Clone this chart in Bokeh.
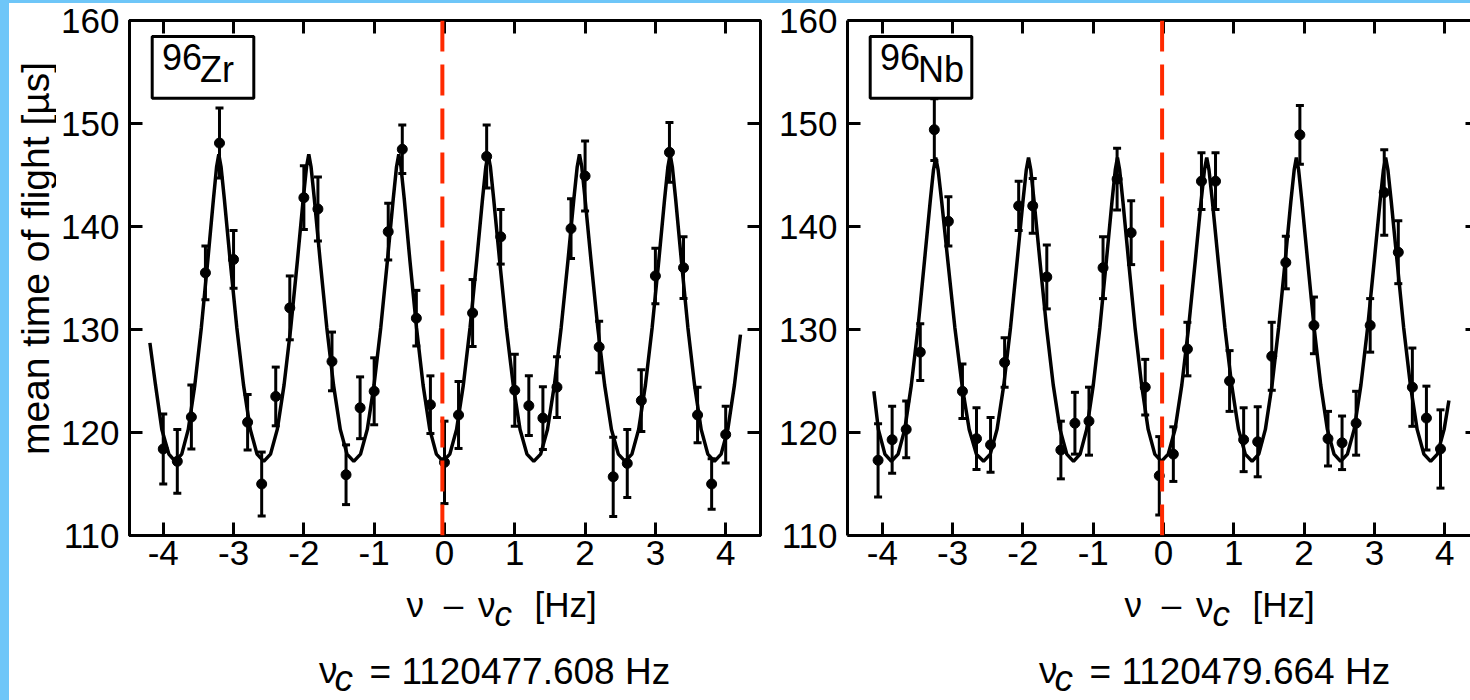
import math
from bokeh.plotting import figure
from bokeh.models import (ColumnDataSource, Whisker, TeeHead, Span, Label, BoxAnnotation,
                          LinearAxis, FixedTicker, Range1d)
from bokeh.layouts import row, column
from bokeh.embed import file_html
from bokeh.resources import INLINE

# ---------------- data ----------------
x_ticks = [-4, -3, -2, -1, 0, 1, 2, 3, 4]
x_tick_labels = ["-4", "-3", "-2", "-1", "0", "1", "2", "3", "4"]
y_ticks = [110, 120, 130, 140, 150, 160]
y_tick_labels = ["110", "120", "130", "140", "150", "160"]

isotopes = [("96", "Zr"), ("96", "Nb")]
nu_c_text = ["= 1120477.608 Hz", "= 1120479.664 Hz"]
nu_c_marker = [-0.03, -0.02]
y_title = "mean time of flight [µs]"
x_title = ["ν", "–", "ν", "c", "[Hz]"]

zr_x = [-4.0, -3.8, -3.6, -3.4, -3.2, -3.0, -2.8, -2.6, -2.4, -2.2, -2.0, -1.8, -1.6, -1.4,
        -1.2, -1.0, -0.8, -0.6, -0.4, -0.2, 0.0, 0.2, 0.4, 0.6, 0.8, 1.0, 1.2, 1.4, 1.6, 1.8,
        2.0, 2.2, 2.4, 2.6, 2.8, 3.0, 3.2, 3.4, 3.6, 3.8, 4.0]
zr_y = [118.4, 117.2, 121.5, 135.5, 148.1, 136.8, 121.0, 115.0, 123.5, 132.1, 142.8, 141.7,
        126.9, 115.9, 122.4, 124.0, 139.5, 147.5, 131.1, 122.7, 117.1, 121.7, 131.6, 146.8,
        139.0, 124.1, 122.6, 121.4, 124.4, 139.8, 144.9, 128.3, 115.7, 117.0, 123.1, 135.2,
        147.2, 136.0, 121.7, 115.0, 119.8]
zr_err = [3.4, 3.1, 3.1, 2.6, 3.4, 2.8, 2.7, 3.1, 2.85, 3.1, 3.1, 3.1, 2.85, 2.9, 3.0, 3.25,
          2.75, 2.35, 2.7, 2.8, 4.0, 3.25, 3.25, 3.05, 2.65, 3.5, 2.9, 3.05, 2.95, 2.9, 3.4,
          2.5, 3.85, 3.3, 3.0, 2.7, 2.9, 3.0, 2.7, 2.45, 2.75]

nb_x = [-4.06, -3.86, -3.66, -3.46, -3.26, -3.06, -2.86, -2.66, -2.46, -2.26, -2.06, -1.86,
        -1.66, -1.46, -1.26, -1.06, -0.86, -0.66, -0.46, -0.26, -0.06, 0.14, 0.34, 0.54, 0.74,
        0.94, 1.14, 1.34, 1.54, 1.74, 1.94, 2.14, 2.34, 2.54, 2.74, 2.94, 3.14, 3.34, 3.54,
        3.74, 3.94]
nb_y = [117.3, 119.3, 120.3, 127.8, 149.4, 140.5, 124.0, 119.4, 118.8, 126.8, 142.0, 142.0,
        135.1, 118.3, 120.9, 121.1, 136.0, 144.6, 139.4, 124.4, 115.8, 117.9, 128.1, 144.4,
        144.4, 125.0, 119.3, 119.1, 127.4, 136.5, 148.9, 130.4, 119.4, 119.0, 120.9, 130.4,
        143.3, 137.5, 124.4, 121.4, 118.4]
nb_err = [3.55, 3.25, 2.75, 2.75, 3.0, 2.4, 2.65, 3.0, 2.65, 2.4, 2.4, 2.65, 3.1, 2.8, 3.0,
          3.3, 3.0, 3.0, 3.1, 2.7, 3.8, 2.65, 2.6, 2.75, 2.75, 2.95, 3.1, 3.4, 3.3, 2.55, 2.85,
          2.75, 2.65, 2.6, 3.1, 2.6, 4.15, 3.05, 3.8, 3.1, 3.8]

zr_fit_x = [-4.19, -4.11, -4.02, -3.92, -3.83,
            -3.737, -3.644, -3.551, -3.458, -3.365, -3.287, -3.241, -3.21,
            -3.178, -3.13, -3.05, -2.954, -2.858, -2.762, -2.666, -2.57,
            -2.474, -2.378, -2.282, -2.186, -2.09, -2.01, -1.962, -1.93,
            -1.898, -1.85, -1.77, -1.674, -1.578, -1.482, -1.386, -1.29,
            -1.194, -1.098, -1.002, -0.906, -0.81, -0.73, -0.682, -0.65,
            -0.619, -0.571, -0.493, -0.398, -0.304, -0.209, -0.115, -0.02,
            0.076, 0.172, 0.268, 0.364, 0.46, 0.54, 0.588, 0.62,
            0.653, 0.701, 0.783, 0.88, 0.978, 1.075, 1.173, 1.27,
            1.368, 1.465, 1.563, 1.66, 1.758, 1.839, 1.888, 1.92,
            1.953, 2.001, 2.083, 2.18, 2.278, 2.375, 2.473, 2.57,
            2.666, 2.762, 2.858, 2.954, 3.05, 3.13, 3.178, 3.21,
            3.241, 3.289, 3.368, 3.462, 3.557, 3.651, 3.746, 3.84,
            3.935, 4.03, 4.124, 4.21]
zr_fit_y = [128.7, 124.6, 120.3, 117.9, 117.2,
            117.9, 120.3, 124.6, 130.2, 136.8, 142.6, 145.8, 147.0,
            145.8, 142.6, 136.8, 130.2, 124.6, 120.3, 117.9, 117.2,
            117.9, 120.3, 124.6, 130.2, 136.8, 142.6, 145.8, 147.0,
            145.8, 142.6, 136.8, 130.2, 124.6, 120.3, 117.9, 117.2,
            117.9, 120.3, 124.6, 130.2, 136.8, 142.6, 145.8, 147.0,
            145.8, 142.6, 136.8, 130.2, 124.6, 120.3, 117.9, 117.2,
            117.9, 120.3, 124.6, 130.2, 136.8, 142.6, 145.8, 147.0,
            145.8, 142.6, 136.8, 130.2, 124.6, 120.3, 117.9, 117.2,
            117.9, 120.3, 124.6, 130.2, 136.8, 142.6, 145.8, 147.0,
            145.8, 142.6, 136.8, 130.2, 124.6, 120.3, 117.9, 117.2,
            117.9, 120.3, 124.6, 130.2, 136.8, 142.6, 145.8, 147.0,
            145.8, 142.6, 136.8, 130.2, 124.6, 120.3, 117.9, 117.2,
            117.9, 120.3, 124.6, 129.5]

nb_fit_x = [-4.12, -4.056, -3.963, -3.87,
            -3.775, -3.681, -3.587, -3.492, -3.398, -3.319, -3.272, -3.24,
            -3.206, -3.155, -3.07, -2.968, -2.866, -2.764, -2.662, -2.56,
            -2.464, -2.368, -2.272, -2.176, -2.08, -2.0, -1.952, -1.92,
            -1.888, -1.84, -1.76, -1.664, -1.568, -1.472, -1.376, -1.28,
            -1.186, -1.093, -0.999, -0.905, -0.811, -0.733, -0.686, -0.655,
            -0.624, -0.577, -0.499, -0.405, -0.311, -0.218, -0.124, -0.03,
            0.067, 0.164, 0.26, 0.357, 0.454, 0.534, 0.583, 0.615,
            0.647, 0.696, 0.776, 0.873, 0.97, 1.067, 1.163, 1.26,
            1.355, 1.449, 1.544, 1.638, 1.733, 1.811, 1.859, 1.89,
            1.922, 1.969, 2.048, 2.142, 2.237, 2.331, 2.426, 2.52,
            2.616, 2.712, 2.808, 2.904, 3.0, 3.08, 3.128, 3.16,
            3.192, 3.24, 3.32, 3.416, 3.512, 3.608, 3.704, 3.80,
            3.896, 3.992, 4.06]
nb_fit_y = [124.0, 120.3, 117.9, 117.2,
            117.9, 120.3, 124.6, 130.2, 136.8, 142.4, 145.5, 146.7,
            145.5, 142.4, 136.8, 130.2, 124.6, 120.3, 117.9, 117.2,
            117.9, 120.3, 124.6, 130.2, 136.8, 142.4, 145.5, 146.7,
            145.5, 142.4, 136.8, 130.2, 124.6, 120.3, 117.9, 117.2,
            117.9, 120.3, 124.6, 130.2, 136.8, 142.4, 145.5, 146.7,
            145.5, 142.4, 136.8, 130.2, 124.6, 120.3, 117.9, 117.2,
            117.9, 120.3, 124.6, 130.2, 136.8, 142.4, 145.5, 146.7,
            145.5, 142.4, 136.8, 130.2, 124.6, 120.3, 117.9, 117.2,
            117.9, 120.3, 124.6, 130.2, 136.8, 142.4, 145.5, 146.7,
            145.5, 142.4, 136.8, 130.2, 124.6, 120.3, 117.9, 117.2,
            117.9, 120.3, 124.6, 130.2, 136.8, 142.4, 145.5, 146.7,
            145.5, 142.4, 136.8, 130.2, 124.6, 120.3, 117.9, 117.2,
            117.9, 120.3, 123.1]

# ---------------- style / layout (page pixels; the page is drawn from 0,0) ----------------
FONT = "Liberation Sans"
RED = "#ff2a00"
Y0, Y1 = 110, 160
FRAME_TOP, FRAME_BOTTOM = 20, 535
SPLIT = 581          # bottom of the two chart figures
PAGE_W, PAGE_H = 1470, 700
YL_W = 56            # width of the y-title strip
BASE_K = 0.37        # measured offset of the rendered baseline, in font sizes


def base(py, size):
    """requested y so that the rendered alphabetic baseline lands on page row py"""
    return py - BASE_K * size


def style_axis(ax, labels_on, size="35px", standoff=8):
    ax.axis_line_width = 3
    ax.axis_line_color = "black"
    ax.major_tick_line_width = 3
    ax.major_tick_line_color = "black"
    ax.major_tick_in = 13
    ax.major_tick_out = 0
    ax.minor_tick_line_color = None
    ax.major_label_text_font = FONT
    if labels_on:
        ax.major_label_text_color = "black"
        ax.major_label_text_font_size = size
        ax.major_label_standoff = standoff
    else:
        ax.major_label_text_color = None
        ax.major_label_text_font_size = "0px"
        ax.major_label_standoff = 0


def make_panel(fig_left, fig_right, frame_left, frame_right, xr, outline, right_mode,
               xs, ys, errs, fx, fy, iso, marker):
    width = fig_right - fig_left
    p = figure(width=width, height=SPLIT, x_range=Range1d(*xr), y_range=Range1d(Y0, Y1),
               output_backend="svg", toolbar_location=None,
               x_axis_type=None, y_axis_type=None,
               min_border_left=frame_left - fig_left, min_border_right=fig_right - frame_right,
               min_border_top=FRAME_TOP, min_border_bottom=SPLIT - FRAME_BOTTOM,
               background_fill_color="white", border_fill_color=None)
    p.outline_line_color = "black" if outline else None
    p.outline_line_width = 3

    sx = (frame_right - frame_left) / (xr[1] - xr[0])
    sy = (FRAME_BOTTOM - FRAME_TOP) / (Y1 - Y0)

    def dx(px):
        return xr[0] + (px - frame_left) / sx

    def dy(py):
        return Y1 - (py - FRAME_TOP) / sy

    bx = LinearAxis(ticker=FixedTicker(ticks=x_ticks),
                    major_label_overrides={t: s for t, s in zip(x_ticks, x_tick_labels)})
    style_axis(bx, True, standoff=5)
    p.add_layout(bx, "below")
    tx = LinearAxis(ticker=FixedTicker(ticks=x_ticks))
    style_axis(tx, False)
    p.add_layout(tx, "above")
    ly = LinearAxis(ticker=FixedTicker(ticks=y_ticks),
                    major_label_overrides={t: s for t, s in zip(y_ticks, y_tick_labels)})
    style_axis(ly, True, standoff=10)
    p.add_layout(ly, "left")
    if right_mode is not None:
        ry = LinearAxis(ticker=FixedTicker(ticks=y_ticks))
        style_axis(ry, False)
        if right_mode == "stub":
            ry.axis_line_color = None
            ry.major_tick_in = 5
        p.add_layout(ry, "right")

    src = ColumnDataSource(dict(x=xs, y=ys,
                                lo=[v - e for v, e in zip(ys, errs)],
                                hi=[v + e for v, e in zip(ys, errs)]))
    p.line(fx, fy, line_color="black", line_width=3.5)
    p.add_layout(Whisker(source=src, base="x", lower="lo", upper="hi", dimension="height",
                         line_color="black", line_width=3,
                         lower_head=TeeHead(size=8, line_width=3, line_color="black"),
                         upper_head=TeeHead(size=8, line_width=3, line_color="black")))
    p.scatter("x", "y", source=src, size=10, fill_color="black", line_color="black")

    p.add_layout(Span(location=marker, dimension="height", line_color=RED, line_width=4,
                      line_dash="31 13"))

    shift = frame_left - 129
    p.add_layout(BoxAnnotation(left=dx(151.7 + shift), right=dx(253.3 + shift),
                               top=dy(36), bottom=dy(97.7),
                               fill_color="white", fill_alpha=1.0,
                               line_color="black", line_alpha=1.0, line_width=3))
    p.add_layout(Label(x=dx(161.5 + shift), y=dy(base(70, 36)), text=iso[0], text_font=FONT,
                       text_font_size="36px", text_color="black", text_baseline="alphabetic"))
    p.add_layout(Label(x=dx(199.5 + shift), y=dy(base(82, 36)), text=iso[1], text_font=FONT,
                       text_font_size="36px", text_color="black", text_baseline="alphabetic"))
    return p


p1 = make_panel(YL_W, 766, 129, 760, (-4.48, 4.495), True, "full",
                zr_x, zr_y, zr_err, zr_fit_x, zr_fit_y, isotopes[0], nu_c_marker[0])
p2 = make_panel(766, PAGE_W, 847, PAGE_W, (-4.495, 4.367), False, "stub",
                nb_x, nb_y, nb_err, nb_fit_x, nb_fit_y, isotopes[1], nu_c_marker[1])


def text_strip(x0, x1, y0, y1):
    """Blank figure whose data coordinates equal page pixels (y downward)."""
    t = figure(width=x1 - x0, height=y1 - y0, x_range=Range1d(x0, x1),
               y_range=Range1d(y1, y0), output_backend="svg", toolbar_location=None,
               x_axis_type=None, y_axis_type=None,
               min_border_left=0, min_border_right=0, min_border_top=0, min_border_bottom=0,
               background_fill_color=None, border_fill_color=None)
    t.outline_line_color = None
    return t


# y title strip
py_ = text_strip(0, YL_W, 0, SPLIT)
py_.add_layout(Label(x=35, y=268.5, text=y_title, text_font=FONT, text_font_size="39px",
                     text_color="black", angle=math.pi / 2,
                     text_align="center", text_baseline="middle"))

# bottom strip with axis titles and nu_c values
pb = text_strip(0, PAGE_W, SPLIT, PAGE_H)


def lab(px, py, t, size=35, style="normal", align="left"):
    pb.add_layout(Label(x=px, y=base(py, size), text=t, text_font=FONT,
                        text_font_size=f"{size}px", text_font_style=style, text_color="black",
                        text_baseline="alphabetic", text_align=align))


for shift in [0, 718]:
    lab(406 + shift, 617, x_title[0])
    lab(453 + shift, 617, x_title[1], align="center")
    lab(477.5 + shift, 617, x_title[2])
    lab(494 + shift, 626, x_title[3], style="italic")
    lab(534 + shift, 617, x_title[4])

for k, shift in enumerate([0, 720]):
    lab(318.5 + shift, 684, "ν", size=37)
    lab(334 + shift, 692, "c", size=37, style="italic")
    lab(369 + shift, 685, nu_c_text[k], size=37)

layout = column(row(py_, p1, p2), pb)
try:
    from bokeh.models import GlobalInlineStyleSheet
    layout.stylesheets = [GlobalInlineStyleSheet(css=(
        "html{background:linear-gradient(to right,#6ec6f8 0,#6ec6f8 9px,transparent 9px),"
        "linear-gradient(to bottom,#6ec6f8 0,#6ec6f8 3px,#ffffff 3px);}"
        "body{background:transparent;}"))]
except Exception:
    pass

open("out.html", "w").write(file_html(layout, INLINE))
